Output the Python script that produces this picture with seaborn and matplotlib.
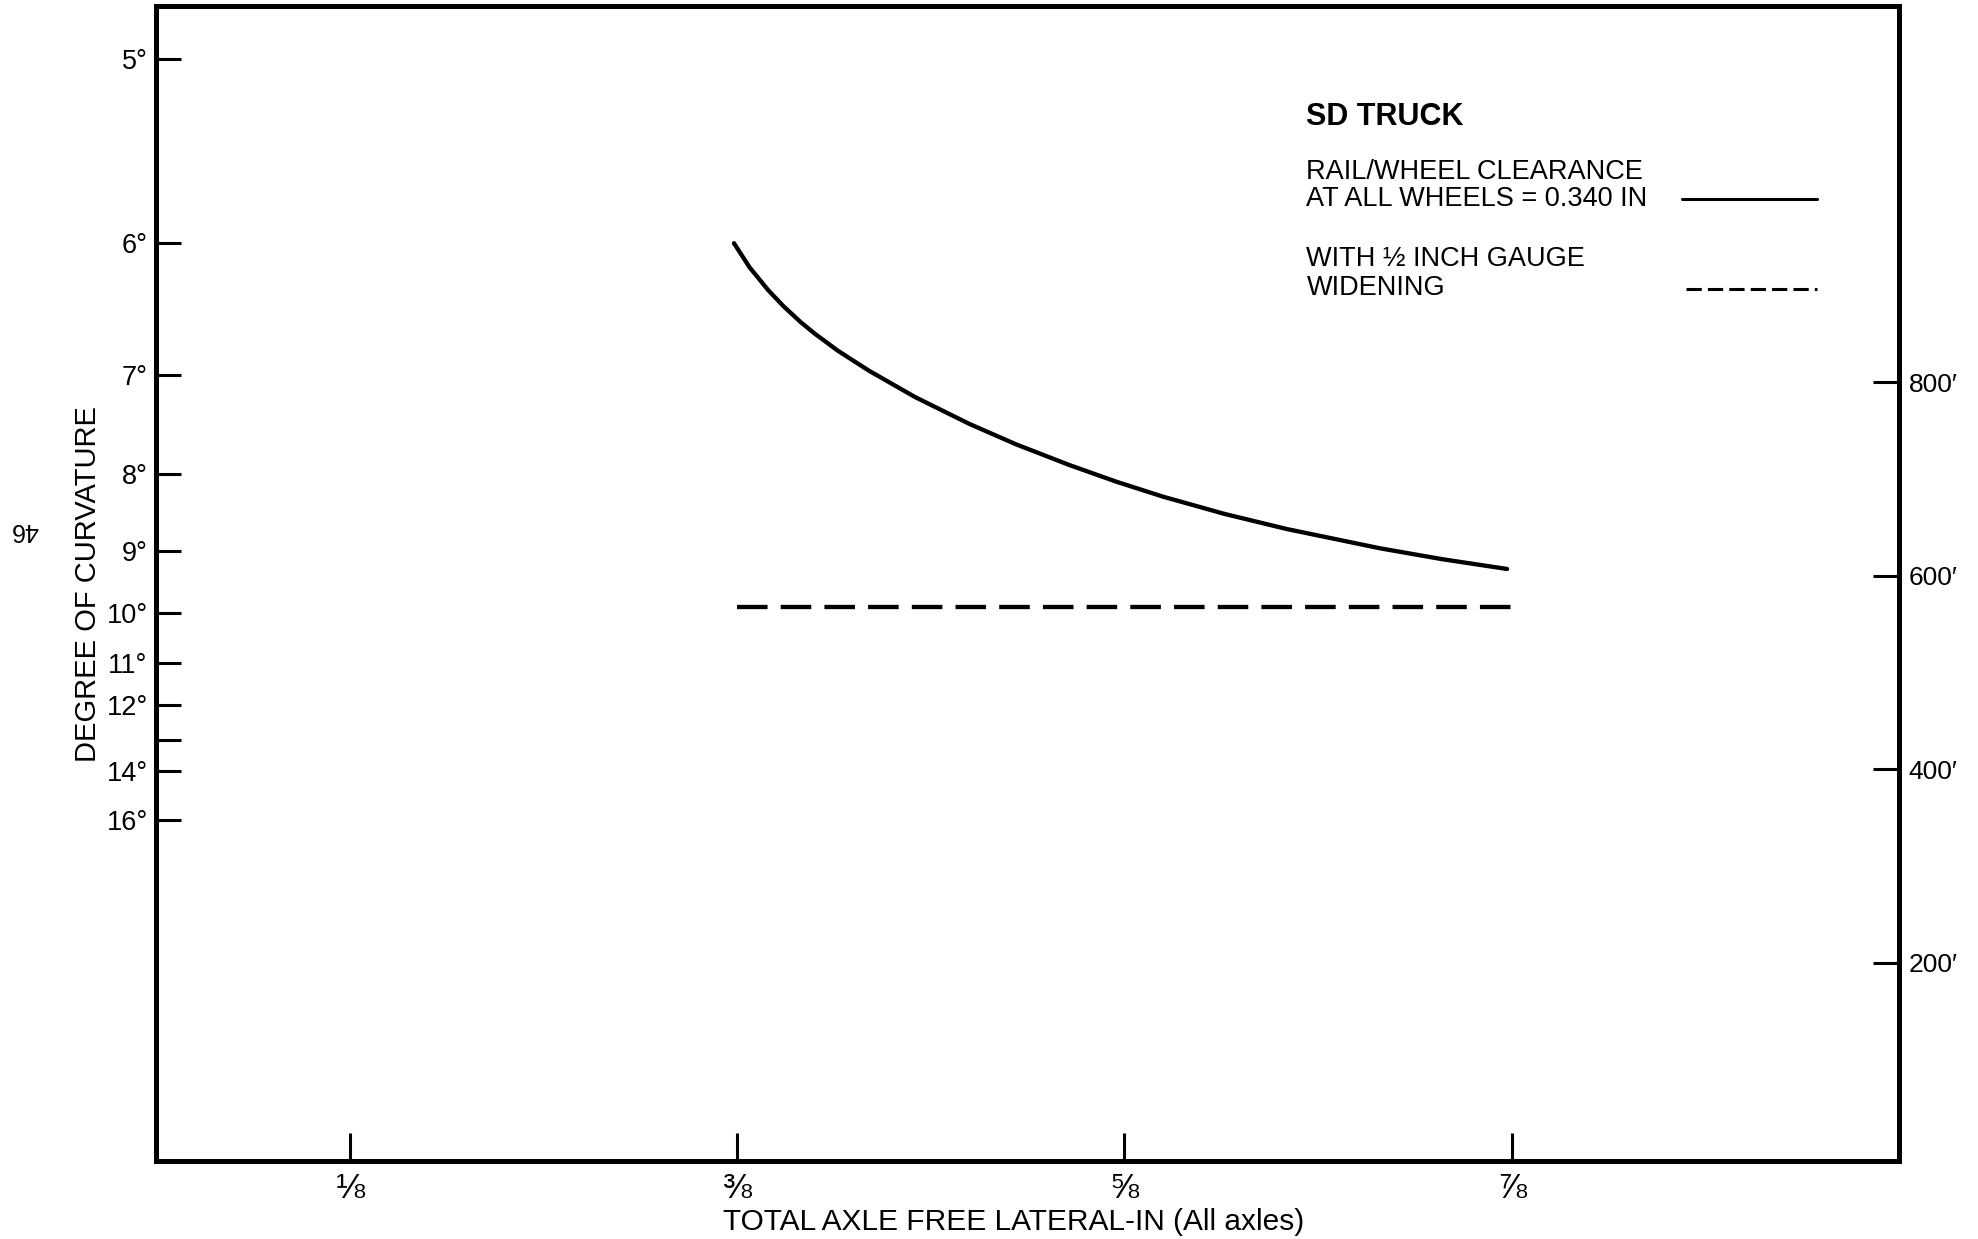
import matplotlib
matplotlib.use("Agg")
import matplotlib.pyplot as plt
import numpy as np
import pandas as pd
import seaborn as sns

# Total axle free lateral (in) vs. degree of curvature, SD truck
clearance_x = [0.373, 0.383, 0.395, 0.405, 0.416, 0.425, 0.44, 0.46, 0.49,
               0.525, 0.555, 0.59, 0.62, 0.65, 0.69, 0.73, 0.79, 0.83, 0.872]
clearance_deg = [6.0, 6.16, 6.32, 6.44, 6.56, 6.65, 6.79, 6.96, 7.2,
                 7.46, 7.67, 7.9, 8.09, 8.27, 8.49, 8.69, 8.96, 9.12, 9.27]
widening_x = [0.375, 0.875]
widening_deg = [9.9, 9.9]

degree_ticks = [5, 6, 7, 8, 9, 10, 11, 12, 13, 14, 16]
degree_labels = ["5°", "6°", "7°", "8°", "9°", "10°", "11°", "12°", "", "14°", "16°"]
radius_ticks = [200, 400, 600, 800]
radius_labels = ["200′", "400′", "600′", "800′"]
x_ticks = [1 / 8, 3 / 8, 5 / 8, 7 / 8]
x_labels = ["⅛", "⅜", "⅝", "⅞"]

# curve radius in feet for a given degree of curvature (100 ft arc)
FT_DEGREE = 5729.58
# the radius scale on the right is drafted slightly shifted from the degree scale
RADIUS_SCALE_SHIFT = 11.0


def to_radius(deg):
    return FT_DEGREE / np.asarray(deg, dtype=float)


sns.set_style("white")
plt.rcParams["font.family"] = ["Liberation Sans", "DejaVu Sans"]
plt.rcParams["text.color"] = "black"
plt.rcParams["axes.labelcolor"] = "black"

df_clear = pd.DataFrame({"lateral": clearance_x, "radius": to_radius(clearance_deg)})
df_widen = pd.DataFrame({"lateral": widening_x, "radius": to_radius(widening_deg)})

fig = plt.figure(figsize=(19.78, 12.39), dpi=100)
ax = fig.add_axes([0.0789, 0.063, 0.8812, 0.932])

sns.lineplot(data=df_clear, x="lateral", y="radius", ax=ax, color="black",
             linewidth=3.1, estimator=None, sort=False, solid_capstyle="round",
             solid_joinstyle="round")
sns.lineplot(data=df_widen, x="lateral", y="radius", ax=ax, color="black",
             linewidth=3.1, estimator=None, sort=False,
             linestyle=(0, (7.1, 3.05)))

ax.set_xlim(0, 1.125)
ax.set_ylim(6, 1200)

for side in ["left", "right", "top", "bottom"]:
    ax.spines[side].set_visible(True)
    ax.spines[side].set_linewidth(3.6)
    ax.spines[side].set_color("black")

ax.set_xticks(x_ticks, labels=x_labels)
ax.tick_params(axis="x", direction="in", length=20, width=2.2, labelsize=25,
               pad=8, colors="black", bottom=True)
ax.set_yticks(to_radius(degree_ticks), labels=degree_labels)
ax.tick_params(axis="y", direction="in", length=18, width=2.2, labelsize=19.5,
               pad=6, colors="black", left=True)

sec = ax.secondary_yaxis(
    "right",
    functions=(lambda r: r - RADIUS_SCALE_SHIFT, lambda r: r + RADIUS_SCALE_SHIFT),
)
sec.set_yticks(radius_ticks, labels=radius_labels)
sec.tick_params(direction="in", length=19, width=2.2, labelsize=19, pad=7,
                colors="black")
sec.spines["right"].set_linewidth(3.6)
sec.spines["right"].set_color("black")

ax.set_xlabel("TOTAL AXLE FREE LATERAL-IN (All axles)", fontsize=21.5)
ax.set_ylabel("DEGREE OF CURVATURE", fontsize=21)
ax.xaxis.set_label_coords(0.492, -0.041)
ax.yaxis.set_label_coords(-0.031, 0.5)

# key
ax.text(0.660, 0.904, "SD TRUCK", transform=ax.transAxes, fontsize=22,
        fontweight="bold", va="center", ha="left")
ax.text(0.660, 0.856, "RAIL/WHEEL CLEARANCE", transform=ax.transAxes,
        fontsize=19.5, va="center", ha="left")
ax.text(0.660, 0.833, "AT ALL WHEELS = 0.340 IN", transform=ax.transAxes,
        fontsize=19.5, va="center", ha="left")
ax.text(0.660, 0.781, "WITH ½ INCH GAUGE", transform=ax.transAxes,
        fontsize=19.5, va="center", ha="left")
ax.text(0.660, 0.756, "WIDENING", transform=ax.transAxes,
        fontsize=19.5, va="center", ha="left")
ax.plot([0.8755, 0.953], [0.833, 0.833], transform=ax.transAxes,
        color="black", linewidth=2.2)
ax.plot([0.878, 0.953], [0.755, 0.755], transform=ax.transAxes,
        color="black", linewidth=2.2, linestyle=(0, (5, 2)))

fig.text(24 / 1978, 1 - 530 / 1239, "46", rotation=180, ha="center",
         va="center", fontsize=18)

fig.savefig("out.png", dpi=100, facecolor="white")
